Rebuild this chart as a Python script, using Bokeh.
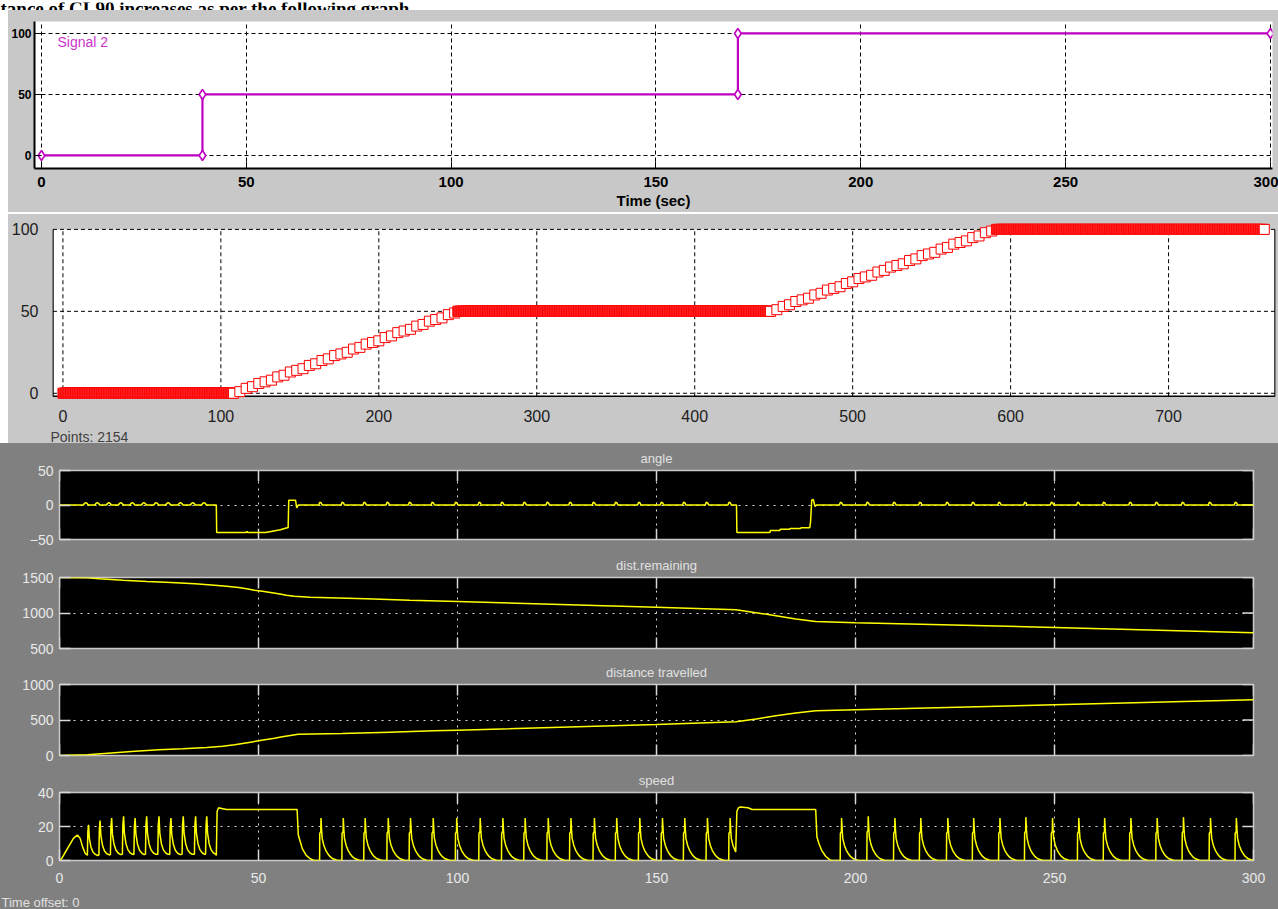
import numpy as np
from bokeh.plotting import figure
from bokeh.layouts import column, row
from bokeh.models import Range1d, Spacer, FixedTicker, Title
from bokeh.embed import file_html
from bokeh.resources import INLINE
from bokeh.core.properties import value

# ---------------- data ----------------
heading = "tance of CL90 increases as per the following graph."

# Signal builder (top panel)
sig_t = [0, 39.3, 39.3, 170, 170, 300]
sig_v = [0, 0, 50, 50, 100, 100]
sig_name = "Signal 2"
sig_xticks = [0, 50, 100, 150, 200, 250, 300]
sig_yticks = [0, 50, 100]
sig_xlabel = "Time (sec)"

# Rate-limited output (middle panel)
flat_level = [0, 50, 100]
flat_start = [0, 250, 591]
flat_stop = [108, 448, 761]
ramp1_t = [108, 112, 116, 120, 124, 128, 132, 136, 140, 144, 148, 152, 156, 160, 164, 168, 172, 176,
           180, 184, 188, 192, 196, 200, 204, 208, 212, 216, 220, 224, 228, 232, 236, 240, 244, 248]
ramp1_v = [0, 1, 3, 4, 6, 7, 8, 10, 11, 13, 14, 15, 17, 18, 20, 21, 23, 24,
           25, 27, 28, 30, 31, 32, 34, 35, 37, 38, 39, 41, 42, 44, 45, 46, 48, 49]
ramp2_t = [448, 452, 456, 460, 464, 468, 472, 476, 480, 484, 488, 492, 496, 500, 504, 508, 512, 516,
           520, 524, 528, 532, 536, 540, 544, 548, 552, 556, 560, 564, 568, 572, 576, 580, 584, 588]
ramp2_v = [50, 51, 53, 54, 56, 57, 58, 60, 61, 63, 64, 65, 67, 68, 70, 71, 72, 74,
           75, 77, 78, 79, 81, 82, 84, 85, 86, 88, 89, 91, 92, 93, 95, 96, 98, 99]
flat_sample_dt = 0.4
mid_xticks = [0, 100, 200, 300, 400, 500, 600, 700]
mid_yticks = [0, 50, 100]
points_text = "Points: 2154"

# Scope (bottom panels)
scope_xticks = [0, 50, 100, 150, 200, 250, 300]
scope_titles = ["angle", "dist.remaining", "distance travelled", "speed"]
scope_ylims = [(-50, 50), (500, 1500), (0, 1000), (0, 40)]
scope_yticks = [[-50, 0, 50], [500, 1000, 1500], [0, 500, 1000], [0, 20, 40]]
time_offset_text = "Time offset:  0"

# speed pulses
early_spike_t = [7.0, 9.9, 12.8, 15.8, 18.7, 21.6, 24.7, 27.7, 30.8, 33.9, 36.7]
early_spike_peak = [21, 23.5, 25, 26, 25, 26, 26, 25, 26, 26, 26]
late_spike_t = [65.4, 71.0, 76.5, 82.3, 87.9, 93.6, 99.5, 105.4, 111.1, 116.7, 122.5, 128.2, 134.1,
                139.7, 145.5, 151.2, 156.8, 162.5, 168.2, 196.2, 202.9, 209.6, 216.1, 222.9, 229.4,
                236.0, 242.5, 249.2, 255.8, 262.3, 268.9, 275.5, 282.1, 288.9, 295.4]
late_spike_peak = [25, 25, 25, 25, 25, 25, 25, 25, 25, 25, 25, 25, 25,
                   25, 25, 25, 25, 25, 25, 25, 26, 25, 25, 25, 25,
                   25, 25.5, 25, 25, 25, 25, 25, 25.5, 25, 25]
early_shape_dt = [0, 0.12, 0.3, 0.5, 0.9, 1.4, 2.0, 2.6]
early_shape_f = [0.14, 0.8, 1.0, 0.62, 0.38, 0.24, 0.17, 0.14]
late_shape_dt = [-0.05, 0, 0.25, 0.3, 0.45, 0.6, 1.0, 1.5, 2.0, 2.6, 3.3, 4.2, 4.6]
late_shape_f = [0, 0.64, 0.68, 1.0, 0.72, 0.52, 0.36, 0.24, 0.16, 0.09, 0.04, 0.01, 0]
speed_start_t = [0, 0.5, 1.5, 2.5, 3.5, 4.5, 5.2, 5.8, 6.5, 6.9]
speed_start_v = [0, 1, 5, 9, 13, 15, 13, 8, 4, 3.5]
plateau1_t = [39.4, 39.6, 40.0, 41.0, 42.0, 59.7, 60.0, 60.5, 61.0, 62.0, 63.0, 64.0]
plateau1_v = [3, 29, 31, 30.5, 30, 30, 15, 11, 7, 3, 1, 0]
plateau2_t = [169.9, 170.2, 170.6, 171.0, 173.0, 174.0, 190.0, 190.3, 190.8, 191.5, 192.5, 193.5, 194.0]
plateau2_v = [5, 29, 31, 31.5, 31, 30, 30, 14, 10, 6, 2.5, 0.5, 0]

# angle
angle_turn1_t = [39.4, 39.5, 46.8, 47.1, 47.4, 51.8, 53.5, 55.5, 57.2, 57.45, 57.6, 59.3, 59.6, 60.0]
angle_turn1_v = [0, -40, -40, -38.5, -40, -40, -38, -36, -33, -33, 7, 7, -4, 0]
angle_turn2_t = [170.1, 170.2, 178.5, 178.6, 181.0, 181.1, 183.5, 183.6, 186.2, 186.3, 188.5,
                 188.7, 189.0, 189.4, 189.8, 190.2]
angle_turn2_v = [0, -40, -40, -37, -37, -35, -35, -34, -34, -33, -33, -25, 7, 8, -2, 0]
early_ripple_dt = [-1.0, -0.7, -0.4, -0.1, 0.2]
early_ripple_v = [0, 2.5, 3.5, 2.5, 0]
late_ripple_dt = [-0.25, 0, 0.35, 0.6]
late_ripple_v = [0, 4, 3, 0]

# distances
rem_t = [0, 7, 10, 16, 22, 28, 34, 39, 42, 45, 47, 49, 51, 53, 55, 57, 59, 63, 77, 88, 100,
         150, 170, 175, 180, 185, 190, 200, 250, 300]
rem_v = [1500, 1497, 1482, 1462, 1444, 1430, 1411, 1392, 1377, 1359, 1340, 1321, 1307, 1289, 1270,
         1251, 1237, 1222, 1200, 1180, 1162, 1080, 1045, 1005, 960, 915, 880, 862, 797, 722]
trav_t = [0, 7, 13, 19, 25, 31, 37, 41, 44, 46, 48, 50, 52, 54, 56, 58, 60, 71, 83, 94, 100,
          150, 170, 175, 180, 185, 190, 200, 250, 300]
trav_v = [0, 10, 35, 60, 80, 96, 113, 131, 150, 169, 188, 207, 226, 244, 263, 282, 298, 310, 328,
          347, 356, 437, 475, 515, 560, 600, 630, 645, 715, 785]

# ---------------- assemble series ----------------
mid_t, mid_v = [], []
def add_flat(i):
    ts = np.arange(flat_start[i], flat_stop[i], flat_sample_dt)
    mid_t.extend(ts.tolist()); mid_v.extend([flat_level[i]] * len(ts))
add_flat(0); mid_t.extend(ramp1_t); mid_v.extend(ramp1_v)
add_flat(1); mid_t.extend(ramp2_t); mid_v.extend(ramp2_v)
add_flat(2)

speed_pts = list(zip(speed_start_t, speed_start_v)) + list(zip(plateau1_t, plateau1_v)) \
    + list(zip(plateau2_t, plateau2_v))
for i, (t0, pk) in enumerate(zip(early_spike_t, early_spike_peak)):
    stop = early_spike_t[i + 1] if i + 1 < len(early_spike_t) else plateau1_t[0]
    for d, f in zip(early_shape_dt, early_shape_f):
        if t0 + d < stop:
            speed_pts.append((t0 + d, pk * f))
late_bounds = sorted([t + late_shape_dt[0] for t in late_spike_t] + [plateau2_t[0], 300.01])
for t0, pk in zip(late_spike_t, late_spike_peak):
    stop = min(b for b in late_bounds if b > t0)
    for d, f in zip(late_shape_dt, late_shape_f):
        if t0 + d < stop:
            speed_pts.append((t0 + d, pk * f))
speed_pts.sort()
speed_t = [p[0] for p in speed_pts if p[0] <= 300]
speed_v = [p[1] for p in speed_pts if p[0] <= 300]

angle_pts = [(0, 0), (300, 0)] + list(zip(angle_turn1_t, angle_turn1_v)) + list(zip(angle_turn2_t, angle_turn2_v))
for t0 in early_spike_t:
    for d, v in zip(early_ripple_dt, early_ripple_v):
        angle_pts.append((t0 + d, v))
for t0 in late_spike_t:
    for d, v in zip(late_ripple_dt, late_ripple_v):
        angle_pts.append((t0 + d, v))
angle_pts.sort()
angle_t = [p[0] for p in angle_pts]
angle_v = [p[1] for p in angle_pts]

# ---------------- styles ----------------
PANEL_GRAY = "#c8c8c8"
SCOPE_GRAY = "#808080"
SANS = "Liberation Sans"


def text_strip(width, height, bg, txt, x, y, size, color, font=SANS, style="normal"):
    s = figure(width=width, height=height, x_range=Range1d(0, width), y_range=Range1d(height, 0),
               toolbar_location=None, output_backend="svg", min_border=0,
               x_axis_location=None, y_axis_location=None, outline_line_color=None,
               background_fill_color=bg, border_fill_color=bg)
    s.grid.visible = False
    s.text(x=[x], y=[y], text=[txt], text_font=value(font), text_font_style=style,
           text_font_size=size, text_color=color, text_baseline="middle", text_align="left")
    return s


# heading strip (cut off by the panel below, as in the screenshot)
p0 = figure(width=1278, height=10, x_range=Range1d(0, 1278), y_range=Range1d(10, 0),
            toolbar_location=None, output_backend="svg", min_border=0,
            x_axis_location=None, y_axis_location=None, outline_line_color=None)
p0.grid.visible = False
p0.text(x=[0], y=[5.5], text=[heading], text_font=value("Liberation Serif"), text_font_style="bold",
        text_font_size="19px", text_baseline="alphabetic", text_color="black")

# top: signal builder
p1 = figure(width=1270, height=202, x_range=Range1d(-1.7, 300.5), y_range=Range1d(-10.7, 109.8),
            toolbar_location=None, output_backend="svg",
            min_border_left=25, min_border_right=6, min_border_top=11, min_border_bottom=44,
            background_fill_color="white", border_fill_color=PANEL_GRAY, outline_line_color=None)
for ax in (p1.xaxis[0], p1.yaxis[0]):
    ax.axis_line_color = "black"; ax.axis_line_width = 2
    ax.major_tick_in = 7; ax.major_tick_out = 0; ax.major_tick_line_color = "black"
    ax.minor_tick_line_color = None
    ax.major_label_text_font = SANS; ax.major_label_text_font_style = "bold"
    ax.major_label_text_color = "black"
p1.xaxis.major_label_text_font_size = "15px"
p1.yaxis.major_label_text_font_size = "12px"
p1.xaxis.ticker = FixedTicker(ticks=sig_xticks)
p1.yaxis.ticker = FixedTicker(ticks=sig_yticks)
p1.xaxis.major_label_standoff = 8
p1.yaxis.major_label_standoff = 3
p1.xaxis.axis_label = sig_xlabel
p1.xaxis.axis_label_text_font = SANS
p1.xaxis.axis_label_text_font_style = "bold"
p1.xaxis.axis_label_text_font_size = "15px"
p1.xaxis.axis_label_text_color = "black"
p1.xaxis.axis_label_standoff = 2
p1.grid.grid_line_color = "black"
p1.grid.grid_line_dash = "4 3"
p1.grid.grid_line_width = 1
p1.line(sig_t, sig_v, color="#c000c0", line_width=2.2)
p1.scatter(sig_t, sig_v, marker="diamond", size=10, line_color="#c000c0", fill_color="white", line_width=1.6)
p1.text(x=[3.9], y=[92.6], text=[sig_name], text_font=value(SANS), text_font_size="14px",
        text_color="#cc33cc", text_baseline="middle", text_align="left")

# middle: sampled output
box_bottom, box_top = -1.83, 100
p2 = figure(width=1270, height=215, x_range=Range1d(-6.6, 767.7), y_range=Range1d(-3.8, 103.6),
            toolbar_location=None, output_backend="svg",
            min_border_left=43, min_border_right=3, min_border_top=9, min_border_bottom=30,
            background_fill_color=PANEL_GRAY, border_fill_color=PANEL_GRAY, outline_line_color=None)
xr0, xr1 = -6.3, 767.4
p2.quad(left=[xr0], right=[xr1], bottom=[box_bottom], top=[box_top], fill_color="white", line_color=None)
p2.segment(x0=[xr0, xr1, xr0], y0=[box_bottom, box_bottom, box_bottom],
           x1=[xr0, xr1, xr1], y1=[box_top, box_top, box_bottom], line_color="black", line_width=1.5)
gx = list(mid_xticks)
p2.segment(x0=gx, y0=[box_bottom] * len(gx), x1=gx, y1=[box_top] * len(gx),
           line_color="black", line_dash="4 3", line_width=1)
p2.segment(x0=[xr0] * len(mid_yticks), y0=mid_yticks, x1=[xr1] * len(mid_yticks), y1=mid_yticks,
           line_color="black", line_dash="4 3", line_width=1)
p2.grid.visible = False
for ax in (p2.xaxis[0], p2.yaxis[0]):
    ax.axis_line_color = None
    ax.major_tick_line_color = None; ax.minor_tick_line_color = None
    ax.major_label_text_font = SANS; ax.major_label_text_font_size = "16px"
    ax.major_label_text_color = "#202020"
p2.xaxis.ticker = FixedTicker(ticks=mid_xticks)
p2.yaxis.ticker = FixedTicker(ticks=mid_yticks)
p2.xaxis.major_label_standoff = 4
p2.yaxis.major_label_standoff = 8
p2.scatter(mid_t, mid_v, marker="square", size=10, line_color="red", fill_color="white", line_width=1)
p2_note = text_strip(1270, 14, PANEL_GRAY, points_text, 42, 7, "14px", "#404040")


# bottom: scope
def scope_panel(i, height, top, bottom, xs, ys, show_xlabels=False):
    lo, hi = scope_ylims[i]
    p = figure(width=1278, height=height, x_range=Range1d(0, 300), y_range=Range1d(lo, hi),
               toolbar_location=None, output_backend="svg",
               x_axis_location="below" if show_xlabels else None,
               min_border_left=59, min_border_right=25, min_border_top=top, min_border_bottom=bottom,
               background_fill_color="black", border_fill_color=SCOPE_GRAY,
               outline_line_color="#c8c8c8", outline_line_width=1.5)
    frame_h = height - top - bottom
    tick_px = 11
    dy = tick_px * (hi - lo) / frame_h
    dx = tick_px * 300 / 1194
    yax = p.yaxis[0]
    yax.ticker = FixedTicker(ticks=scope_yticks[i])
    axes = [yax]
    if show_xlabels:
        xax = p.xaxis[0]
        xax.ticker = FixedTicker(ticks=scope_xticks)
        xax.major_label_standoff = 12
        axes.append(xax)
    for ax in axes:
        ax.axis_line_color = None
        ax.major_tick_in = tick_px; ax.major_tick_out = 0
        ax.major_tick_line_color = "#d8d8d8"; ax.major_tick_line_width = 1.5
        ax.minor_tick_line_color = None
        ax.major_label_text_font = SANS
        ax.major_label_text_color = "#e8e8e8"
        ax.major_label_text_font_size = "14px"
    yax.major_label_standoff = 6
    # inward tick marks on the remaining sides (box style)
    xt = list(scope_xticks)
    p.segment(x0=xt, y0=[hi] * len(xt), x1=xt, y1=[hi - dy] * len(xt), line_color="#d8d8d8", line_width=1.5)
    if not show_xlabels:
        p.segment(x0=xt, y0=[lo] * len(xt), x1=xt, y1=[lo + dy] * len(xt), line_color="#d8d8d8", line_width=1.5)
    yt = list(scope_yticks[i])
    p.segment(x0=[300] * len(yt), y0=yt, x1=[300 - dx] * len(yt), y1=yt, line_color="#d8d8d8", line_width=1.5)
    p.add_layout(Title(text=scope_titles[i], align="center", text_color="#e0e0e0",
                       text_font=SANS, text_font_size="13px", text_font_style="normal",
                       standoff=10), "above")
    p.xgrid.ticker = FixedTicker(ticks=scope_xticks[1:-1])
    p.ygrid.ticker = FixedTicker(ticks=[scope_yticks[i][1]])
    p.xgrid.grid_line_color = "#d8d8d8"
    p.ygrid.grid_line_color = "#d8d8d8"
    p.xgrid.grid_line_dash = "2 5"
    p.ygrid.grid_line_dash = "2 5"
    p.line(xs, ys, color="#ffff00", line_width=1.5)
    return p

pa = scope_panel(0, 107, 26, 11, angle_t, angle_v)
pb = scope_panel(1, 107, 27, 9, rem_t, rem_v)
pc = scope_panel(2, 108, 27, 10, trav_t, trav_v)
pd = scope_panel(3, 130, 27, 35, speed_t, speed_v, show_xlabels=True)
pd_note = text_strip(1278, 14, SCOPE_GRAY, time_offset_text, 1, 7, "13px", "#e0e0e0")


def white_gap(w, h):
    return Spacer(width=w, height=h, styles={"background-color": "white"})


gray_bg = {"background-color": PANEL_GRAY}
scope_bg = {"background-color": SCOPE_GRAY}

layout = column(
    row(p0, spacing=0),
    row(white_gap(8, 202), p1, spacing=0, styles=gray_bg),
    white_gap(1278, 2),
    row(white_gap(8, 215), p2, spacing=0, styles=gray_bg),
    row(white_gap(8, 14), p2_note, spacing=0, styles=gray_bg),
    row(pa, spacing=0, styles=scope_bg),
    row(pb, spacing=0, styles=scope_bg),
    row(pc, spacing=0, styles=scope_bg),
    row(pd, spacing=0, styles=scope_bg),
    row(pd_note, spacing=0, styles=scope_bg),
    spacing=0,
)

open("out.html", "w").write(file_html(layout, INLINE))
